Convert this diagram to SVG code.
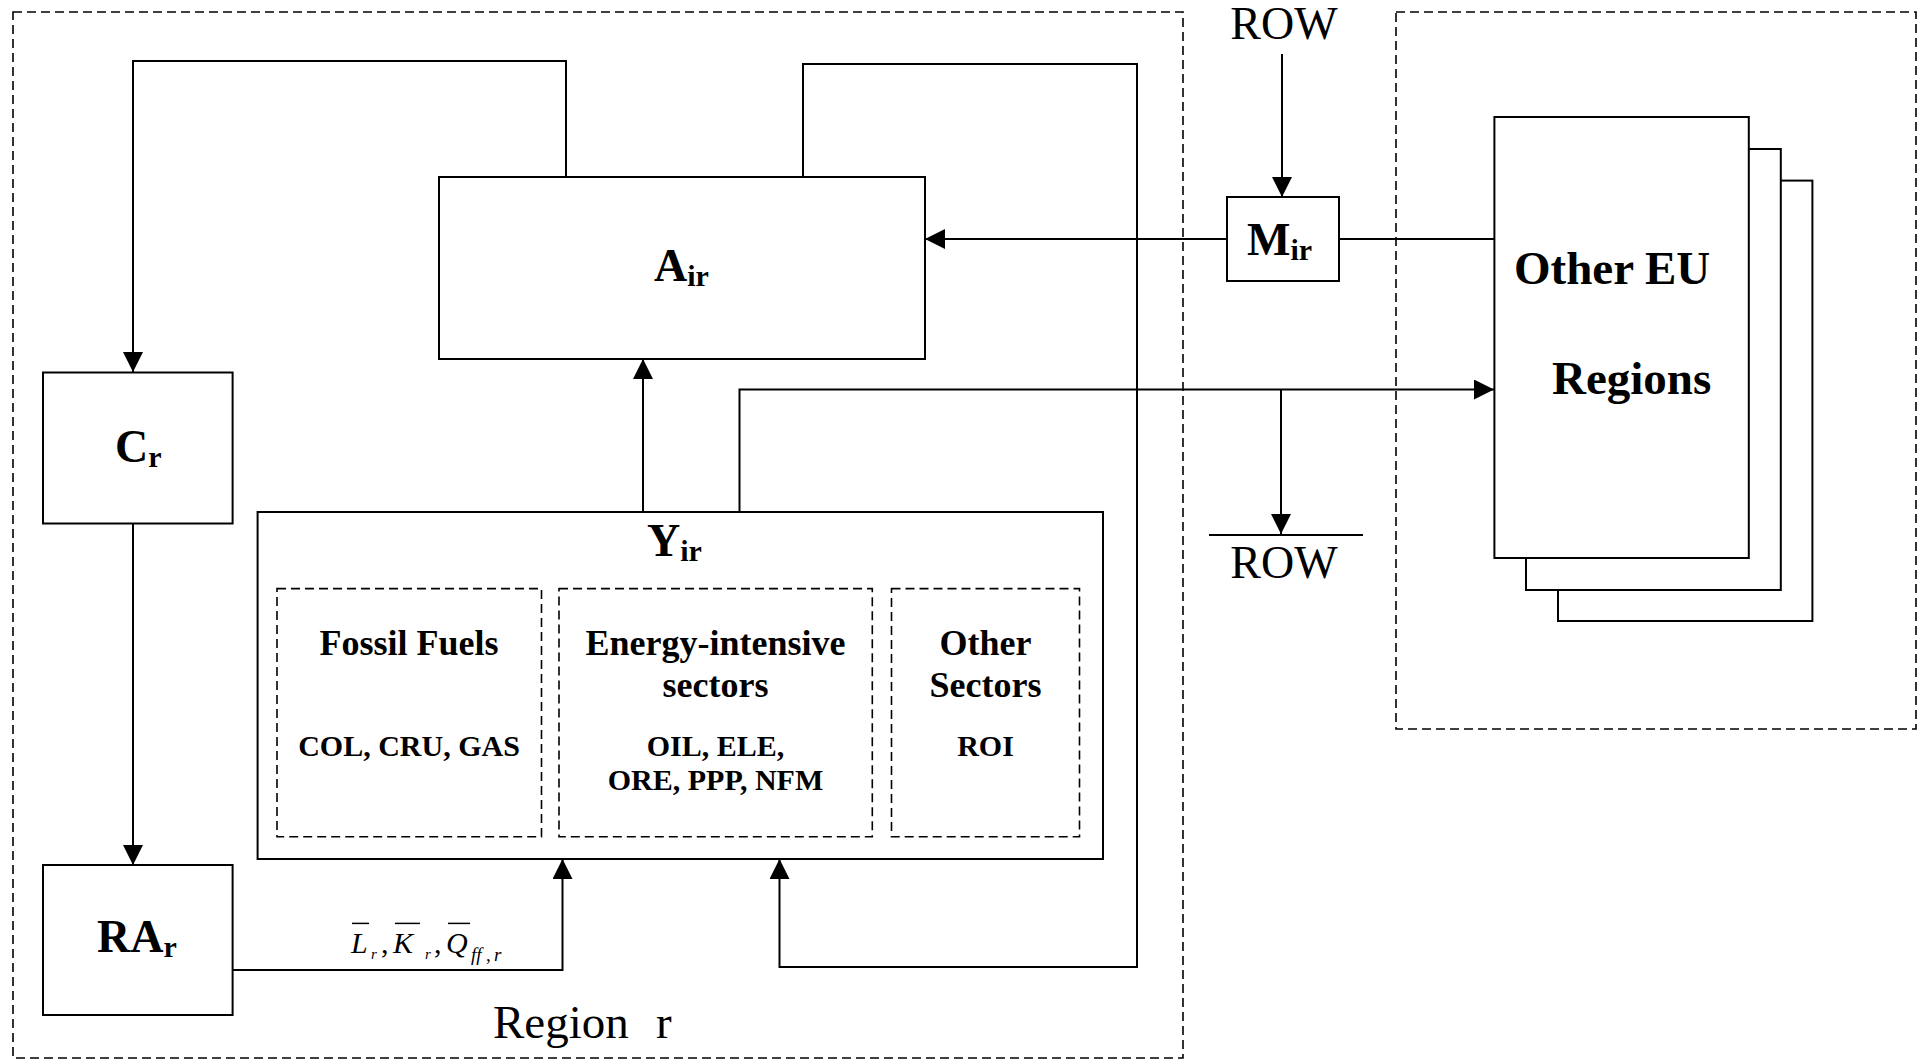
<svg xmlns="http://www.w3.org/2000/svg" width="1927" height="1061" viewBox="0 0 1927 1061">
<style>
.bx{fill:#fff;stroke:#000;stroke-width:2}
.dash{fill:none;stroke:#000;stroke-width:1.6;stroke-dasharray:9,5}
.ln{fill:none;stroke:#000;stroke-width:2}
.arr{marker-end:url(#ah)}
text{font-family:"Liberation Serif","Times New Roman",serif;fill:#000}
.lbl{font-size:46px;font-weight:bold}
.sub{font-size:30px;font-weight:bold}
.big{font-size:47px;font-weight:bold}
.h{font-size:36px;font-weight:bold;text-anchor:middle}
.s{font-size:30px;font-weight:bold;text-anchor:middle}
.row{font-size:46px;text-anchor:middle}
.reg{font-size:47px}
.it{font-style:italic}
</style>
<defs>
<marker id="ah" markerUnits="userSpaceOnUse" markerWidth="20" markerHeight="20" viewBox="0 0 20 20" refX="20" refY="10" orient="auto">
<path d="M0,0 L20,10 L0,20 z" fill="#000"/>
</marker>
</defs>
<rect id="region-r" class="dash" x="13" y="12" width="1170" height="1046"/>
<rect id="eu-area" class="dash" x="1396" y="12" width="520" height="717"/>
<g id="connectors">
<polyline class="ln arr" points="566,177 566,61 133,61 133,372"/>
<polyline class="ln arr" points="803,177 803,64 1137,64 1137,967 779.5,967 779.5,859"/>
<line class="ln arr" x1="643" y1="511" x2="643" y2="359"/>
<polyline class="ln arr" points="739.5,511 739.5,389.5 1494,389.5"/>
<line class="ln arr" x1="1281" y1="389.5" x2="1281" y2="534"/>
<line class="ln arr" x1="1282" y1="54" x2="1282" y2="197"/>
<line class="ln" x1="1494" y1="239" x2="1339" y2="239"/>
<line class="ln arr" x1="1227" y1="239" x2="925" y2="239"/>
<line class="ln arr" x1="133" y1="523" x2="133" y2="865"/>
<polyline class="ln arr" points="232.6,970 562.5,970 562.5,859"/>
<line class="ln" x1="1209" y1="535" x2="1363" y2="535"/>
</g>
<g id="node-A">
<rect class="bx" x="439" y="177" width="486" height="182"/>
<text class="lbl" x="654" y="281">A<tspan class="sub" dy="5">ir</tspan></text>
</g>
<g id="node-M">
<rect class="bx" x="1227" y="197" width="112" height="84"/>
<text class="lbl" x="1247" y="255">M<tspan class="sub" dy="5">ir</tspan></text>
</g>
<g id="node-C">
<rect class="bx" x="43" y="372.5" width="189.6" height="151"/>
<text class="lbl" x="115" y="462">C<tspan class="sub" dy="5">r</tspan></text>
</g>
<g id="node-RA">
<rect class="bx" x="43" y="865" width="189.6" height="150"/>
<text class="lbl" x="97" y="952">RA<tspan class="sub" dy="5">r</tspan></text>
</g>
<g id="node-Y">
<rect class="bx" x="257.6" y="512" width="845.4" height="347"/>
<text class="lbl" x="647" y="556">Y<tspan class="sub" dy="5">ir</tspan></text>
<g id="fossil">
<rect class="dash" x="277" y="588.6" width="264.5" height="248.2"/>
<text class="h" x="409" y="654.6">Fossil Fuels</text>
<text class="s" x="409" y="756">COL, CRU, GAS</text>
</g>
<g id="energy">
<rect class="dash" x="559" y="588.6" width="313.3" height="248.2"/>
<text class="h" x="715.5" y="654.6">Energy-intensive</text>
<text class="h" x="715.5" y="697">sectors</text>
<text class="s" x="715.5" y="756">OIL, ELE,</text>
<text class="s" x="715.5" y="790">ORE, PPP, NFM</text>
</g>
<g id="other">
<rect class="dash" x="891.5" y="588.6" width="188" height="248.2"/>
<text class="h" x="985.5" y="654.6">Other</text>
<text class="h" x="985.5" y="697">Sectors</text>
<text class="s" x="985.5" y="756">ROI</text>
</g>
</g>
<g id="node-EU">
<rect class="bx" x="1558" y="180.6" width="254.4" height="440.4"/>
<rect class="bx" x="1526" y="149" width="254.8" height="441"/>
<rect class="bx" x="1494.4" y="117" width="254.4" height="441"/>
<text class="big" x="1514" y="284">Other EU</text>
<text class="big" x="1552" y="394">Regions</text>
</g>
<g id="row-top"><text class="row" x="1284" y="39">ROW</text></g>
<g id="row-bottom"><text class="row" x="1284" y="578">ROW</text></g>
<g id="label-factors">
<line class="ln" style="stroke-width:1.5" x1="352" y1="923.4" x2="369" y2="923.4"/>
<line class="ln" style="stroke-width:1.5" x1="395" y1="923.4" x2="420" y2="923.4"/>
<line class="ln" style="stroke-width:1.5" x1="448" y1="923.4" x2="470" y2="923.4"/>
<text class="it" font-size="30" y="953"><tspan x="351">L</tspan><tspan x="371" y="959" font-size="15">r</tspan><tspan x="381" y="953" font-style="normal">,</tspan><tspan x="393">K</tspan><tspan x="425" y="959" font-size="15">r</tspan><tspan x="434" y="953" font-style="normal">,</tspan><tspan x="446">Q</tspan><tspan x="471" y="961" font-size="19">ff</tspan><tspan x="486" y="961" font-size="19" font-style="normal">,</tspan><tspan x="494" y="961" font-size="19">r</tspan></text>
</g>
<g id="region-label"><text class="reg" x="493" y="1038">Region</text><text class="reg" x="656" y="1038">r</text></g>
</svg>
